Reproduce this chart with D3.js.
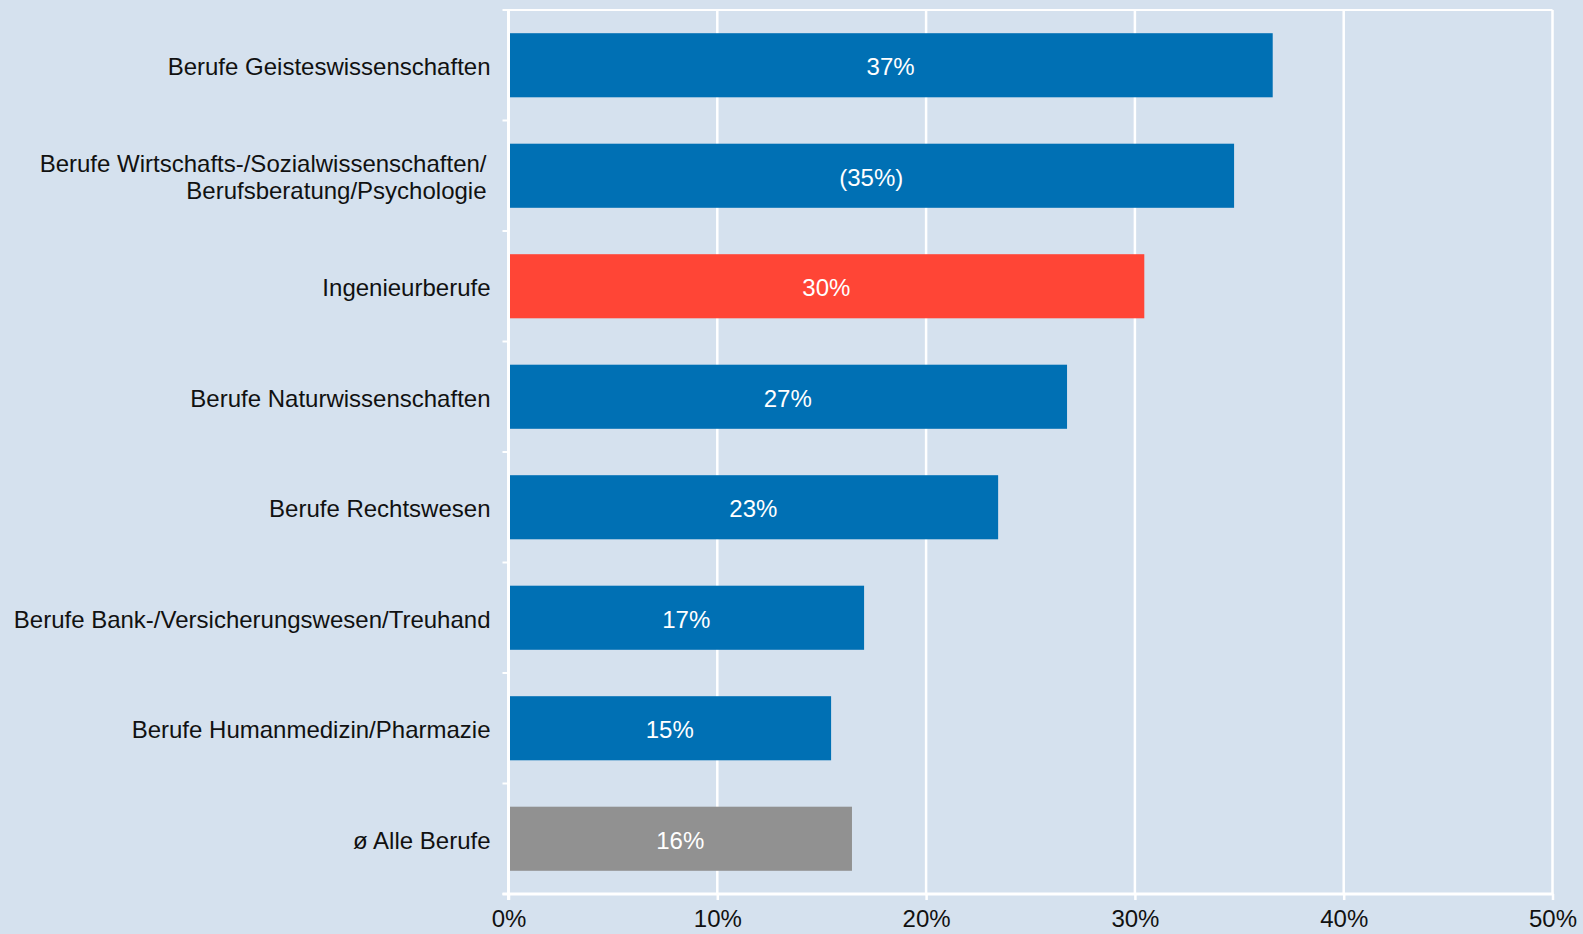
<!DOCTYPE html>
<html>
<head>
<meta charset="utf-8">
<script src="https://cdn.jsdelivr.net/npm/d3@7"></script>
<style>
  html, body { margin: 0; padding: 0; background: #d5e1ee; }
  svg { display: block; }
  text { font-family: "Liberation Sans", Arial, Helvetica, sans-serif; }
</style>
</head>
<body>
<svg id="chart" width="1583" height="934"></svg>
<script>
// Occupational groups (label lines), top to bottom
const categories = [
  ["Berufe Geisteswissenschaften"],
  ["Berufe Wirtschafts-/Sozialwissenschaften/", "Berufsberatung/Psychologie"],
  ["Ingenieurberufe"],
  ["Berufe Naturwissenschaften"],
  ["Berufe Rechtswesen"],
  ["Berufe Bank-/Versicherungswesen/Treuhand"],
  ["Berufe Humanmedizin/Pharmazie"],
  ["ø Alle Berufe"]
];
// Share in percent
const values = [36.6, 34.75, 30.45, 26.75, 23.45, 17.03, 15.45, 16.45];
// Values shown in brackets (small sample)
const bracketed = [false, true, false, false, false, false, false, false];
// Bar kind: regular, highlighted, average
const kinds = ["base", "base", "highlight", "base", "base", "base", "base", "average"];
const xTicks = [0, 10, 20, 30, 40, 50];

const colors = { base: "#0070b4", highlight: "#ff4536", average: "#919191" };
const bg = "#d5e1ee";
const fontSize = 24;

const svg = d3.select("#chart");
svg.append("rect").attr("width", 1583).attr("height", 934).attr("fill", bg);

const mLeft = 508.5, mRight = 1552.5, mTop = 10, mBottom = 894;
const keys = categories.map(c => c.join(" "));

const x = d3.scaleLinear().domain([0, 50]).range([mLeft, mRight]);
const y = d3.scaleBand().domain(keys).range([mTop, mBottom])
  .paddingInner(0.42).paddingOuter(0.21);

// Vertical gridlines
svg.append("g").selectAll("line").data(xTicks.slice(1)).join("line")
  .attr("x1", d => x(d)).attr("x2", d => x(d))
  .attr("y1", mTop).attr("y2", mBottom)
  .attr("stroke", "#fff").attr("stroke-width", 2.5);

// Top frame line
svg.append("line")
  .attr("x1", x(0)).attr("x2", x(50)).attr("y1", mTop).attr("y2", mTop)
  .attr("stroke", "#fff").attr("stroke-width", 2);

// Bars
svg.append("g").selectAll("rect").data(keys).join("rect")
  .attr("x", x(0))
  .attr("y", d => y(d))
  .attr("width", (d, i) => x(values[i]) - x(0))
  .attr("height", y.bandwidth())
  .attr("fill", (d, i) => colors[kinds[i]]);

// Value labels inside bars
svg.append("g").selectAll("text").data(keys).join("text")
  .attr("x", (d, i) => (x(0) + x(values[i])) / 2)
  .attr("y", d => y(d) + y.bandwidth() / 2)
  .attr("dy", "0.42em")
  .attr("text-anchor", "middle")
  .attr("fill", "#fff")
  .attr("font-size", fontSize)
  .text((d, i) => {
    const s = Math.round(values[i]) + "%";
    return bracketed[i] ? "(" + s + ")" : s;
  });

// Bottom axis
const xAxis = d3.axisBottom(x).tickValues(xTicks)
  .tickFormat(d => d + "%").tickSize(6).tickPadding(10);
const gx = svg.append("g").attr("transform", `translate(0,${mBottom})`).call(xAxis);
gx.select(".domain").remove();
gx.selectAll(".tick line").attr("stroke", "#fff").attr("stroke-width", 2.5);
gx.selectAll(".tick text").attr("font-size", fontSize).attr("fill", "#111")
  .attr("font-family", "'Liberation Sans', Arial, sans-serif");

// Category ticks at band boundaries
const bounds = keys.map(k => y(k) - y.step() * y.paddingInner() / 2)
  .concat([y(keys[keys.length - 1]) + y.bandwidth() + y.step() * y.paddingInner() / 2]);
bounds[0] = mTop; bounds[bounds.length - 1] = mBottom;
svg.append("g").selectAll("line").data(bounds).join("line")
  .attr("x1", x(0) - 6).attr("x2", x(0))
  .attr("y1", d => d).attr("y2", d => d)
  .attr("stroke", "#fff").attr("stroke-width", 2);

// Axis lines
svg.append("line").attr("x1", x(0)).attr("x2", x(0))
  .attr("y1", mTop - 1).attr("y2", mBottom + 6)
  .attr("stroke", "#fff").attr("stroke-width", 3);
svg.append("line").attr("x1", x(0) - 6).attr("x2", x(50) + 1)
  .attr("y1", mBottom).attr("y2", mBottom)
  .attr("stroke", "#fff").attr("stroke-width", 3);

// Category labels
const lineH = 27;
const lab = svg.append("g").selectAll("text").data(categories).join("text")
  .attr("text-anchor", "end")
  .attr("fill", "#111")
  .attr("font-size", fontSize)
  .attr("y", (d, i) => y(keys[i]) + y.bandwidth() / 2);
lab.each(function(lines) {
  const t = d3.select(this);
  const n = lines.length;
  const off = n > 1 ? -4 : 0;
  lines.forEach((ln, j) => {
    t.append("tspan")
      .attr("x", mLeft - 18 + off)
      .attr("dy", j === 0 ? (0.42 - (n - 1) * lineH / 2 / fontSize) + "em" : lineH + "px")
      .text(ln);
  });
});
</script>
</body>
</html>
